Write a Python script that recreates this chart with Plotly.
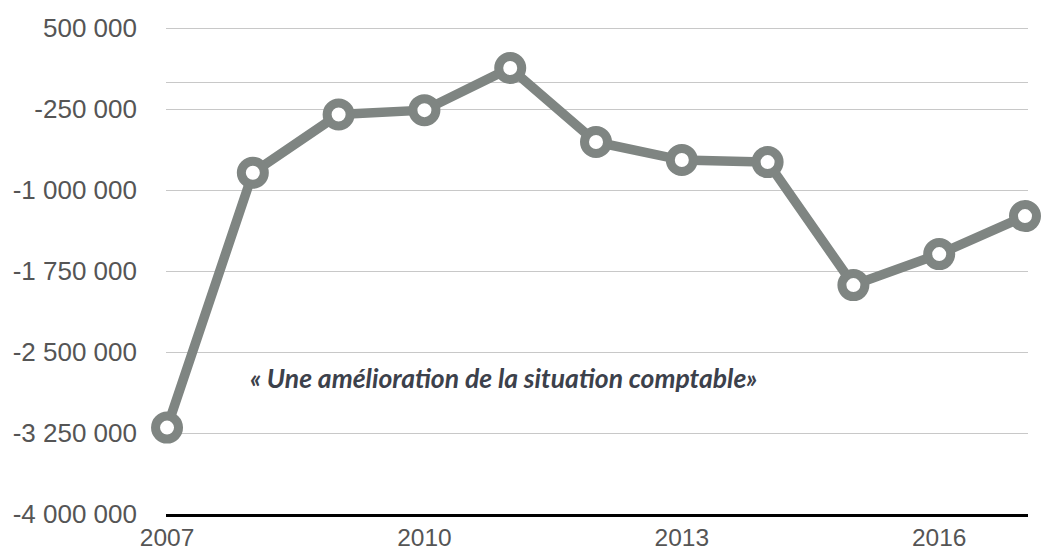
import plotly.graph_objects as go

years = [2007, 2008, 2009, 2010, 2011, 2012, 2013, 2014, 2015, 2016, 2017]
values = [-3200000, -840000, -300000, -260000, 130000, -555000, -722000, -741000, -1880000, -1593000, -1241000]

y_tickvals = [500000, -250000, -1000000, -1750000, -2500000, -3250000, -4000000]
y_ticktext = ["500 000", "-250 000", "-1 000 000", "-1 750 000", "-2 500 000", "-3 250 000", "-4 000 000"]
x_tickvals = [2007, 2010, 2013, 2016]

annotation_text = "« Une amélioration de la situation comptable»"

gray = "#7f8582"

fig = go.Figure()
fig.add_trace(go.Scatter(
    x=years, y=values, mode="lines+markers",
    line=dict(color=gray, width=9.5),
    marker=dict(symbol="circle", size=23, color="white", line=dict(color=gray, width=9)),
    cliponaxis=False, showlegend=False,
))

fig.add_annotation(
    x=0.089, xref="paper", y=-2740000, yref="y", xanchor="left", yanchor="middle",
    text=annotation_text, showarrow=False,
    font=dict(family="Lato", size=26.5, color="#3c414b", style="italic", weight="bold"),
    bgcolor="white", borderpad=6,
)

fig.update_layout(
    width=1041, height=551,
    margin=dict(l=166, r=13, t=27, b=37),
    paper_bgcolor="white", plot_bgcolor="white",
    font=dict(family="Liberation Sans, Arial, sans-serif", size=26, color="#555555"),
    xaxis=dict(
        range=[2006.988, 2017.035], tickvals=x_tickvals, ticktext=[str(v) for v in x_tickvals],
        showgrid=False, zeroline=False, showline=True, linecolor="black", linewidth=2.5,
        ticks="", ticklabelstandoff=0, automargin=False, tickfont=dict(size=24.5),
    ),
    yaxis=dict(
        range=[-4000000, 510000], tickvals=y_tickvals, ticktext=y_ticktext,
        showgrid=True, gridcolor="#c8c8c8", gridwidth=1,
        zeroline=True, zerolinecolor="#c8c8c8", zerolinewidth=1,
        showline=False, ticks="", ticklabelstandoff=28, automargin=False,
    ),
)

fig.write_html(
    "out.html",
    config={"displayModeBar": False},
    post_script="document.body.style.margin='0';document.body.style.overflow='hidden';",
)
